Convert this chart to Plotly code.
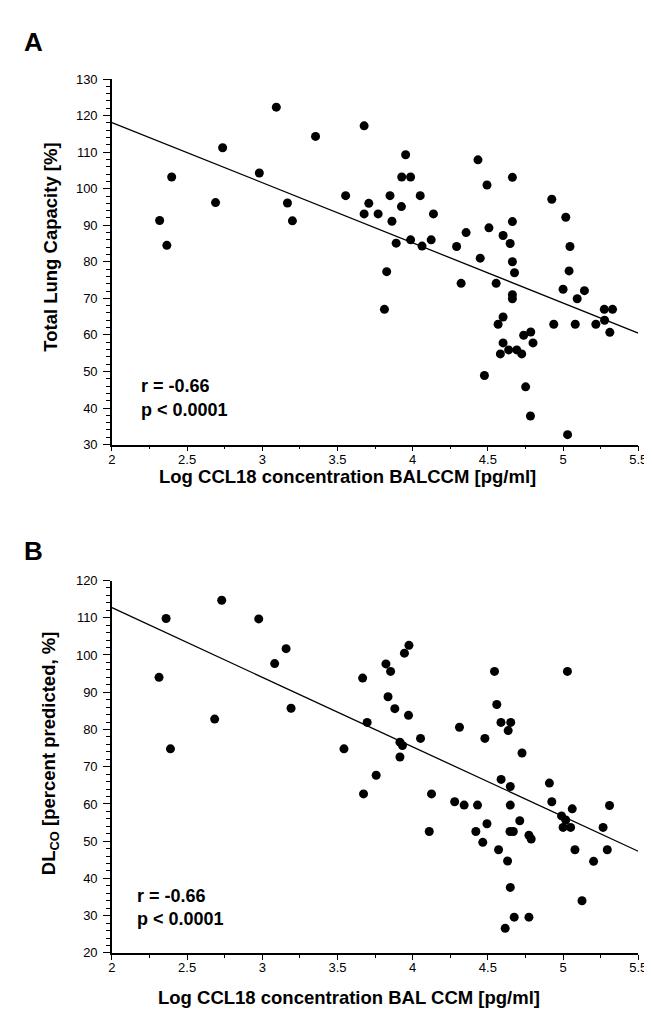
import plotly.graph_objects as go

# ---------------- data ----------------
tlc_x = [2.317, 2.365, 2.397, 2.689, 2.736, 2.98, 3.093, 3.167, 3.2, 3.354,
         3.554, 3.677, 3.677, 3.708, 3.77, 3.953, 3.927, 3.986, 3.849, 4.05,
         3.925, 3.862, 4.138, 3.89, 3.986, 4.062, 4.123, 3.827, 3.812, 4.292,
         4.355, 4.434, 4.494, 4.507, 4.601, 4.663, 4.663, 4.648, 4.663, 4.449,
         4.677, 4.322, 4.555, 4.663, 4.663, 4.601, 4.568, 4.738, 4.785, 4.80,
         4.601, 4.583, 4.638, 4.692, 4.725, 4.477, 4.751, 4.783, 5.03, 4.925,
         5.018, 5.046, 5.04, 5.0, 4.938, 5.142, 5.094, 5.274, 5.329, 5.276,
         5.311, 5.081, 5.218]
tlc_y = [91.3, 84.5, 103.2, 96.2, 111.2, 104.3, 122.3, 96.1, 91.2, 114.3,
         98.1, 117.2, 93.1, 96.0, 93.1, 109.3, 103.2, 103.2, 98.1, 98.1,
         95.1, 91.1, 93.1, 85.1, 86.0, 84.3, 86.0, 77.3, 67.0, 84.2,
         88.0, 107.9, 101.0, 89.3, 87.2, 103.1, 91.0, 85.0, 80.0, 81.0,
         77.0, 74.1, 74.1, 71.0, 69.9, 64.9, 62.9, 59.9, 60.8, 57.8,
         57.8, 54.8, 55.9, 55.9, 54.8, 48.9, 45.8, 37.8, 32.7, 97.1,
         92.2, 84.2, 77.5, 72.5, 62.9, 72.1, 69.9, 67.0, 67.0, 64.0,
         60.7, 62.9, 62.9]

dlco_x = [2.36, 2.313, 2.73, 2.976, 3.158, 3.082, 3.191, 3.667, 3.697, 2.683,
          2.389, 3.543, 3.757, 3.673, 3.975, 3.945, 3.822, 3.853, 3.836, 3.881,
          3.972, 4.544, 4.559, 4.587, 4.652, 5.029, 4.635, 4.311, 4.052, 4.48,
          3.915, 3.932, 3.915, 4.727, 4.125, 4.588, 4.649, 4.279, 4.342, 4.431,
          4.649, 4.11, 4.42, 4.494, 4.466, 4.647, 4.669, 4.712, 4.773, 4.788,
          4.571, 4.631, 4.649, 4.675, 4.773, 4.615, 4.909, 4.925, 4.99, 5.0,
          5.061, 5.309, 5.018, 5.05, 5.266, 5.079, 5.294, 5.203, 5.126]
dlco_y = [109.8, 94.0, 114.7, 109.7, 101.7, 97.7, 85.7, 93.8, 81.9, 82.8,
          74.8, 74.8, 67.7, 62.7, 102.6, 100.5, 97.6, 95.6, 88.8, 85.6,
          83.8, 95.6, 86.7, 81.9, 81.9, 95.6, 79.7, 80.6, 77.6, 77.6,
          76.6, 75.7, 72.6, 73.7, 62.7, 66.6, 64.7, 60.6, 59.7, 59.7,
          59.7, 52.6, 52.6, 54.7, 49.7, 52.6, 52.6, 55.5, 51.6, 50.6,
          47.7, 44.7, 37.6, 29.6, 29.6, 26.6, 65.6, 60.6, 56.8, 53.7,
          58.7, 59.6, 55.7, 53.7, 53.7, 47.7, 47.7, 44.6, 34.0]

fit_x = [2.0, 5.5]
fit_tlc = [118.1, 60.5]
fit_dlco = [112.7, 47.3]

x_ticks = [2, 2.5, 3, 3.5, 4, 4.5, 5, 5.5]
x_tick_text = ["2", "2.5", "3", "3.5", "4", "4.5", "5", "5.5"]
tlc_ticks = [30, 40, 50, 60, 70, 80, 90, 100, 110, 120, 130]
dlco_ticks = [20, 30, 40, 50, 60, 70, 80, 90, 100, 110, 120]

# ---------------- figure ----------------
W, H = 652, 1015
FONT = "Liberation Sans, Arial, sans-serif"

def px(v):                   # window pixel -> paper fraction
    return v / W

def py(v):
    return 1 - v / H

fig = go.Figure()
mk = dict(color="black", size=9, line=dict(width=0))
fig.add_trace(go.Scatter(x=tlc_x, y=tlc_y, mode="markers", marker=mk,
                         xaxis="x", yaxis="y", showlegend=False))
fig.add_trace(go.Scatter(x=fit_x, y=fit_tlc, mode="lines",
                         line=dict(color="black", width=1.3),
                         xaxis="x", yaxis="y", showlegend=False))
fig.add_trace(go.Scatter(x=dlco_x, y=dlco_y, mode="markers", marker=mk,
                         xaxis="x2", yaxis="y2", showlegend=False))
fig.add_trace(go.Scatter(x=fit_x, y=fit_dlco, mode="lines",
                         line=dict(color="black", width=1.3),
                         xaxis="x2", yaxis="y2", showlegend=False))

xdom = [px(102), px(639)]
common_x = dict(range=[2, 5.5], tickvals=x_ticks, ticktext=x_tick_text,
                showline=True, linecolor="black", linewidth=1.5,
                ticks="outside", ticklen=5, tickcolor="black", tickwidth=1,
                ticklabelstandoff=-3,
                minor=dict(dtick=0.25, tick0=2, ticks="outside", ticklen=3,
                           tickcolor="black"),
                showgrid=False, zeroline=False,
                tickfont=dict(family=FONT, size=13, color="black"),
                domain=xdom, fixedrange=True)
common_y = dict(showline=True, linecolor="black", linewidth=1.5,
                ticks="outside", ticklen=7, tickcolor="black", tickwidth=1,
                ticklabelstandoff=3,
                minor=dict(dtick=2, ticks="outside", ticklen=4,
                           tickcolor="black"),
                showgrid=False, zeroline=False,
                tickfont=dict(family=FONT, size=13, color="black"),
                fixedrange=True)

fig.update_layout(
    width=W, height=H,
    margin=dict(l=0, r=0, t=0, b=0),
    paper_bgcolor="white", plot_bgcolor="white",
    xaxis=dict(**common_x, anchor="y"),
    yaxis=dict(**common_y, range=[30, 130], tickvals=tlc_ticks,
               domain=[py(436), py(65)], anchor="x", minor_tick0=30),
    xaxis2=dict(**common_x, anchor="y2"),
    yaxis2=dict(**common_y, range=[20, 120], tickvals=dlco_ticks,
                domain=[py(952), py(574)], anchor="x2", minor_tick0=20),
)

def ann(text, x, y, size, angle=0, xanchor="center"):
    fig.add_annotation(text=text, x=px(x), y=py(y), xref="paper", yref="paper",
                       showarrow=False, textangle=angle, xanchor=xanchor,
                       yanchor="middle",
                       font=dict(family=FONT, size=size, color="black"))

ann("<b>A</b>", 10, 27, 26, xanchor="left")
ann("<b>B</b>", 10, 544, 26, xanchor="left")
ann("<b>Total Lung Capacity [%]</b>", 39, 236, 18.5, angle=-90)
ann("<b>DL<sub>CO</sub> [percent predicted, %]</b>", 39, 749, 18.5, angle=-90)
ann("<b>Log CCL18 concentration BALCCM [pg/ml]</b>", 342, 468, 18.5)
ann("<b>Log CCL18 concentration BAL CCM [pg/ml]</b>", 344, 997, 18.5)
ann("<b>r = -0.66</b>", 130, 377, 18, xanchor="left")
ann("<b>p &lt; 0.0001</b>", 130, 401, 18, xanchor="left")
ann("<b>r = -0.66</b>", 126, 894, 18, xanchor="left")
ann("<b>p &lt; 0.0001</b>", 126, 918, 18, xanchor="left")

fig.write_html("out.html")
